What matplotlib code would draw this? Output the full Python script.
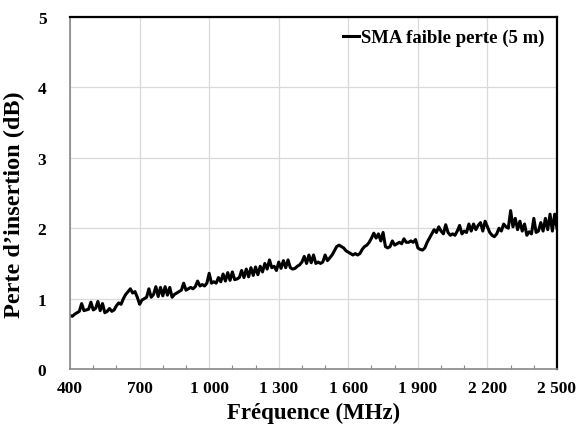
import matplotlib.pyplot as plt
import numpy as np
from matplotlib import rcParams
from matplotlib.ticker import MultipleLocator, FuncFormatter

rcParams['font.family'] = 'Liberation Serif'
rcParams['font.weight'] = 'bold'

# Insertion loss of the low-loss SMA cable, one sample every 10 MHz
freq_start, freq_step = 400, 10
loss_db = [
    0.76, 0.75, 0.78, 0.80, 0.82, 0.93, 0.83, 0.84, 0.85, 0.95,
    0.84, 0.86, 0.96, 0.83, 0.93, 0.80, 0.82, 0.86, 0.82, 0.84,
    0.90, 0.94, 0.92, 1.00, 1.06, 1.10, 1.14, 1.08, 1.10, 1.02,
    0.92, 0.98, 1.00, 1.02, 1.14, 1.02, 1.06, 1.17, 1.03, 1.16,
    1.04, 1.17, 1.05, 1.16, 1.02, 1.06, 1.08, 1.10, 1.12, 1.22,
    1.12, 1.14, 1.16, 1.14, 1.17, 1.25, 1.18, 1.20, 1.18, 1.22,
    1.36, 1.22, 1.24, 1.22, 1.30, 1.24, 1.35, 1.25, 1.37, 1.26,
    1.38, 1.27, 1.28, 1.30, 1.40, 1.30, 1.42, 1.31, 1.44, 1.33,
    1.45, 1.34, 1.46, 1.38, 1.50, 1.42, 1.55, 1.44, 1.46, 1.40,
    1.52, 1.43, 1.54, 1.44, 1.55, 1.44, 1.42, 1.43, 1.46, 1.48,
    1.52, 1.60, 1.50, 1.62, 1.51, 1.62, 1.50, 1.52, 1.50, 1.52,
    1.62, 1.54, 1.58, 1.62, 1.68, 1.74, 1.76, 1.74, 1.72, 1.68,
    1.66, 1.64, 1.62, 1.64, 1.62, 1.64, 1.70, 1.74, 1.76, 1.80,
    1.86, 1.93, 1.86, 1.92, 1.82, 1.94, 1.74, 1.72, 1.74, 1.82,
    1.76, 1.78, 1.80, 1.78, 1.85, 1.80, 1.80, 1.82, 1.80, 1.84,
    1.72, 1.70, 1.69, 1.72, 1.80, 1.86, 1.92, 1.98, 1.94, 2.02,
    1.96, 1.92, 2.05, 1.94, 1.90, 1.92, 1.90, 1.96, 2.04, 1.92,
    1.96, 1.94, 2.06, 1.96, 2.06, 1.98, 2.04, 2.08, 1.96, 2.10,
    2.02, 1.94, 1.90, 1.88, 1.92, 2.00, 1.96, 2.06, 2.02, 2.00,
    2.25, 2.02, 2.14, 1.98, 2.10, 1.96, 2.06, 1.90, 1.95, 1.92,
    2.14, 1.94, 1.96, 2.08, 1.96, 2.14, 1.98, 2.20, 1.96, 2.20,
    2.00,
]
freq_mhz = freq_start + freq_step * np.arange(len(loss_db))

x_ticks = [400, 700, 1000, 1300, 1600, 1900, 2200, 2500]
y_ticks = [0, 1, 2, 3, 4, 5]

fig = plt.figure(figsize=(5.79, 4.39), dpi=100)
ax = fig.add_axes([0.121, 0.157, 0.841, 0.802])

ax.plot(freq_mhz, loss_db, color='black', linewidth=2.2,
        label='SMA faible perte (5 m)')

ax.set_xlim(400, 2500)
ax.set_ylim(0, 5)
ax.set_xticks(x_ticks)
ax.set_yticks(y_ticks)
ax.xaxis.set_minor_locator(MultipleLocator(100))
ax.xaxis.set_major_formatter(
    FuncFormatter(lambda v, p: f"{int(v):,}".replace(',', ' ')))

ax.grid(True, which='major', color='#d9d9d9', linewidth=0.9)
ax.set_axisbelow(True)

ax.tick_params(axis='both', which='major', length=0, labelsize=12.5, pad=8)
ax.tick_params(axis='x', which='minor', direction='in', length=3,
               color='#888888', width=0.8)
ax.tick_params(axis='y', pad=17)

for side in ['left', 'bottom']:
    ax.spines[side].set_color('#888888')
    ax.spines[side].set_linewidth(1.2)
for side in ['top', 'right']:
    ax.spines[side].set_color('black')
    ax.spines[side].set_linewidth(1.6)

ax.set_xlabel('Fréquence (MHz)', fontsize=16.5, fontweight='bold', labelpad=4)
ax.set_ylabel('Perte d\u2019insertion (dB)', fontsize=17.5, fontweight='bold',
              labelpad=4)
ax.yaxis.set_label_coords(-0.092, 0.47)

ax.legend(loc='upper right', frameon=False, fontsize=13.5, handlelength=0.9,
          handletextpad=0.1, borderaxespad=0.25)

plt.savefig('out.png', dpi=100)
